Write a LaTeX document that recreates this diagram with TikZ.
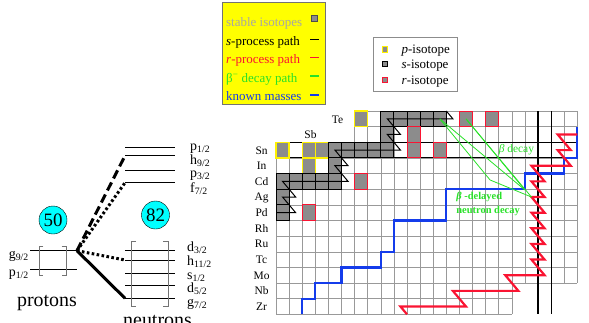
\documentclass[tikz,border=0pt]{standalone}
\usepackage{fontspec}
\setmainfont{Liberation Serif}
\usetikzlibrary{positioning}
\definecolor{isogray}{gray}{0.55}
\definecolor{rpath}{RGB}{250,20,50}
\definecolor{kmass}{RGB}{20,60,235}
\definecolor{bgreen}{RGB}{40,225,40}
\definecolor{keyyellow}{RGB}{255,255,0}
\definecolor{magiccyan}{RGB}{0,255,255}
\newcommand{\orb}[2]{#1\textsubscript{#2}}

\begin{document}
\begin{tikzpicture}[x=1bp, y=-1bp,
    lvline/.style={line width=0.9bp},
    bracket/.style={draw=black!55, line width=0.8bp},
    hop/.style={line width=3bp},
    magic/.style={circle, draw, fill=magiccyan, minimum size=28bp, inner sep=0pt,
                  font=\fontsize{19}{19}\selectfont},
    orblabel/.style={inner sep=0pt, font=\fontsize{14}{14}\selectfont},
    gridline/.style={draw=black!40, line width=0.5bp},
    shell/.style={line width=1.1bp},
    cell/.style={fill=isogray, line width=1bp},
    scell/.style={cell, draw=black},
    pcell/.style={cell, draw=yellow, line width=1.3bp},
    rcell/.style={cell, draw=rpath},
    elem/.style={anchor=base, inner sep=0pt, font=\fontsize{11.5}{12}\selectfont},
    keytext/.style={anchor=base west, inner sep=0pt, font=\fontsize{13}{14}\selectfont},
    keysq/.style={fill=isogray, line width=0.8bp}
  ]
  \useasboundingbox (0,0) rectangle (589,322);

  % shell model levels
  \draw[lvline, line width=1.5bp] (30,250.7) -- (77,250.7) coordinate (pg92);
  \draw[lvline] (30,269.3) -- (77,269.3) coordinate (pp12);
  \draw[bracket] (43.3,246) -- (39.3,246) -- (39.3,275) -- (43.3,275);
  \draw[bracket] (61.7,246) -- (66,246) -- (66,275) -- (61.7,275);
  \foreach \nm/\y in {np12/147.3, nh92/155.7, np32/170.7, nf72/182.7,
                      nd32/250.7, nh112/260, ns12/273.3, nd52/285.7, ng72/298.3}
    \draw[lvline] (125,\y) coordinate (\nm) -- ++(50,0);
  \draw[bracket] (136,241.7) -- (131.7,241.7) -- (131.7,306.7) -- (136,306.7);
  \draw[bracket] (163,241.7) -- (168,241.7) -- (168,306.7) -- (163,306.7);

  \node[orblabel, anchor=base east] (lg92) at (29,258) {\orb{g}{9/2}};
  \node[orblabel, anchor=base east] (lp12) at (29,276.7) {\orb{p}{1/2}};
  \node[orblabel, anchor=base west] (lnp12) at (190,150.5) {\orb{p}{1/2}};
  \node[orblabel, anchor=base west] (lnh92) at (190,164.5) {\orb{h}{9/2}};
  \node[orblabel, anchor=base west] (lnp32) at (190,177.5) {\orb{p}{3/2}};
  \node[orblabel, anchor=base west] (lnf72) at (190,192) {\orb{f}{7/2}};
  \node[orblabel, anchor=base west] (lnd32) at (187,251) {\orb{d}{3/2}};
  \node[orblabel, anchor=base west] (lnh112) at (187,265) {\orb{h}{11/2}};
  \node[orblabel, anchor=base west] (lns12) at (187,279) {\orb{s}{1/2}};
  \node[orblabel, anchor=base west] (lnd52) at (187,292.5) {\orb{d}{5/2}};
  \node[orblabel, anchor=base west] (lng72) at (187,306) {\orb{g}{7/2}};

  \draw[hop, dash pattern=on 9bp off 4.5bp] (pg92) -- (nh92);
  \draw[hop, dash pattern=on 2.6bp off 2.4bp] (pg92) -- (nf72);
  \draw[hop, dash pattern=on 2.6bp off 2.4bp] (pg92) -- (nh112);
  \draw[hop] (pg92) -- (ng72);

  \node[magic] (z50) at (53,220) {50};
  \node[magic] (n82) at (155.5,215) {82};
  \node[anchor=base, font=\fontsize{20}{20}\selectfont] (protons) at (47,306.7) {protons};
  \node[anchor=base, font=\fontsize{20}{20}\selectfont] (neutrons) at (157.5,326) {neutrons};

  % keys
  \node[draw=black!55, fill=keyyellow, minimum width=103bp, minimum height=102bp,
        inner sep=0pt] (keybox) at (273.5,53) {};
  \node[keytext, text=black!35] (kstable) at (226,26) {stable isotopes};
  \node[keytext] (kspath) at (226,45) {\textit{s}-process path};
  \node[keytext, text=rpath] (krpath) at (226,63.5) {\textit{r}-process path};
  \node[keytext, text=bgreen] (kbpath) at (226,82) {β\textsuperscript{−} decay path};
  \node[keytext, text=kmass] (kmpath) at (226,100.5) {known masses};
  \draw[keysq, draw=black!70, line width=0.5bp] (311,15.5) rectangle ++(6,6);
  \draw[line width=1.5bp] (310,39.3) -- ++(9,0);
  \draw[rpath, line width=1.5bp] (310,57.3) -- ++(9,0);
  \draw[bgreen, line width=1.5bp] (310,76) -- ++(9,0);
  \draw[kmass, line width=1.5bp] (310,95) -- ++(9,0);

  \node[draw=black!45, fill=white, minimum width=84bp, minimum height=53.4bp,
        inner sep=0pt] (isobox) at (414.7,64) {};
  \draw[keysq, draw=yellow] (382.5,46.6) rectangle ++(5,5.4);
  \draw[keysq, draw=black] (382.5,61.3) rectangle ++(5,5.4);
  \draw[keysq, draw=rpath] (382.5,77.3) rectangle ++(5,5.4);
  \node[keytext] (kp) at (401.5,53.3) {\textit{p}-isotope};
  \node[keytext] (ks) at (401.5,68.3) {\textit{s}-isotope};
  \node[keytext] (kr) at (401.5,84.3) {\textit{r}-isotope};

  % chart of nuclides
  \begin{scope}[shift={(276bp,-111bp)}, x=13.1bp, y=-15.64bp]
    \foreach \r in {0,1} \draw[gridline] (6,\r) -- (23,\r);
    \foreach \r in {2,...,11} \draw[gridline] (0,\r) -- (23,\r);
    \foreach \r in {12,13} \draw[gridline] (0,\r) -- (18,\r);
    \foreach \c in {0,...,5} \draw[gridline] (\c,2) -- (\c,13);
    \foreach \c in {6,...,18} \draw[gridline] (\c,0) -- (\c,13);
    \foreach \c in {19,...,23} \draw[gridline] (\c,0) -- (\c,11);

    \draw[shell] (0,2) -- (23,2) (0,3) -- (23,3);
    \draw[shell] (20,0) -- (20,13) (21,0) -- (21,13);

    \foreach \c/\r in {6/0,0/2,2/2,3/2,2/3}
      \draw[pcell] (\c,\r) rectangle ++(1,1);
    \foreach \c/\r in {8/0,9/0,10/0,11/0,12/0,8/1,4/2,5/2,6/2,7/2,8/2,4/3,
                       0/4,1/4,2/4,3/4,4/4,0/5,0/6}
      \draw[scell] (\c,\r) rectangle ++(1,1);
    \foreach \c/\r in {14/0,16/0,10/1,10/2,12/2,6/4,2/6}
      \draw[rcell] (\c,\r) rectangle ++(1,1);

    \draw[kmass, line width=2.2bp] (2,13) -- (2,12) -- (3,12) -- (3,11) -- (5,11)
      -- (5,10) -- (8,10) -- (8,9) -- (9,9) -- (9,7) -- (13,7) -- (13,5) -- (19,5)
      -- (19,4) -- (22,4) -- (22,3) -- (23,3) -- (23,1);

    \draw[rpath, line width=2.2bp] (10,13) -- (9.5,12.5) -- (14.5,12.5) -- (13.5,11.5)
      -- (18.5,11.5) -- (17.5,10.5) -- (20.5,10.5) -- (19.5,9.5) -- (20.5,9.5)
      -- (19.5,8.5) -- (20.5,8.5) -- (19.5,7.5) -- (20.5,7.5) -- (19.5,6.5)
      -- (20.5,6.5) -- (19.5,5.5) -- (20.5,5.5) -- (19.5,4.5) -- (20.5,4.5)
      -- (19.5,3.5) -- (22.5,3.5) -- (21.5,2.5) -- (22.5,2.5) -- (21.5,1.5) -- (23,1.5);

    \draw[line width=1bp] (0,6.5) -- (1.5,6.5) -- (0.5,5.5) -- (1.5,5.5) -- (0.5,4.5)
      -- (5.5,4.5) -- (4.5,3.5) -- (5.5,3.5) -- (4.5,2.5) -- (9.5,2.5) -- (8.5,1.5)
      -- (9.5,1.5) -- (8.5,0.5) -- (13.5,0.5) -- (13,0);

    \coordinate (teA) at (12.5,0.5);
    \coordinate (teB) at (14.5,0.5);
    \coordinate (waitA) at (19.5,5.5);
    \coordinate (waitB) at (19,5.05);
    \coordinate (kink) at (16.34,4.41);
    \draw[bgreen, line width=0.8bp] (teA) -- (kink) -- (waitA);
    \draw[bgreen, line width=0.8bp] (teA) -- (waitB);
    \draw[bgreen, line width=0.8bp] (teB) -- (waitA);
    \draw[bgreen, line width=0.8bp] (teB) -- (waitB);

    \node[text=bgreen, font=\fontsize{11.5}{11.5}\selectfont] (bdecay) at (18.35,2.5)
      {\textit{β} decay};
    \node[text=bgreen, align=left, anchor=north west, inner sep=0pt,
          font=\bfseries\fontsize{10.5}{14}\selectfont] (bdn) at (13.75,5.2)
      {\textit{β} -delayed\\neutron decay};

    \foreach \el [count=\r from 2] in {Sn,In,Cd,Ag,Pd,Rh,Ru,Tc,Mo,Nb,Zr}
      \node[elem] (\el) at (-1.1,\r+0.75) {\el};
    \node[elem] (Te) at (4.69,0.77) {Te};
    \node[elem] (Sb) at (2.63,1.73) {Sb};
  \end{scope}
\end{tikzpicture}
\end{document}
